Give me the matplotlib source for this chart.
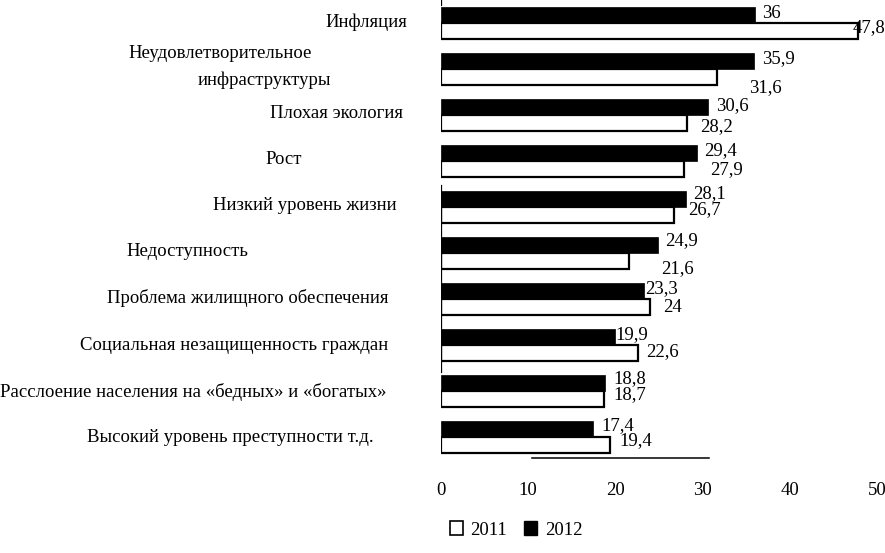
import matplotlib
matplotlib.use("Agg")
import matplotlib.pyplot as plt
from matplotlib.patches import Patch
import numpy as np

plt.rcParams['font.family'] = ['Liberation Serif', 'DejaVu Serif']

# ---- data ----
categories = ["Инфляция",
              "Неудовлетворительное\nинфраструктуры",
              "Плохая экология",
              "Рост",
              "Низкий уровень жизни",
              "Недоступность",
              "Проблема жилищного обеспечения",
              "Социальная незащищенность граждан",
              "Расслоение населения на «бедных» и «богатых»",
              "Высокий уровень преступности т.д."]
values_2011 = [47.8, 31.6, 28.2, 27.9, 26.7, 21.6, 24, 22.6, 18.7, 19.4]
values_2012 = [36, 35.9, 30.6, 29.4, 28.1, 24.9, 23.3, 19.9, 18.8, 17.4]
series_names = ["2011", "2012"]
xticks = [0, 10, 20, 30, 40, 50]

FS = 13.5

# ---- layout (pixels) ----
W, H = 885, 553
fig = plt.figure(figsize=(W / 100, H / 100), dpi=100)
ax_left, ax_right, ax_top, ax_bottom = 441, 877, 0, 458
ax = fig.add_axes([ax_left / W, 1 - ax_bottom / H,
                   (ax_right - ax_left) / W, (ax_bottom - ax_top) / H])

spacing = 46.0
first_center = 23.0
n = len(categories)
ylim_top = -first_center / spacing
ylim_bot = (ax_bottom - first_center) / spacing
bh = 16 / spacing

y = np.arange(n)
ax.barh(y - bh / 2, values_2012, height=bh, color='black', edgecolor='black', linewidth=0.5)
ax.barh(y + bh / 2, values_2011, height=bh, color='white', edgecolor='black', linewidth=1.6)

ax.set_xlim(0, 50)
ax.set_ylim(ylim_bot, ylim_top)
ax.set_xticks(xticks)
ax.set_xticklabels([str(t) for t in xticks], fontsize=FS)
ax.tick_params(axis='x', length=0, pad=17)
ax.set_yticks([])
for s in ax.spines.values():
    s.set_visible(False)

# partial spine fragments as in reference
ax.axvline(0, ymin=1 - 372 / ax_bottom, ymax=1 - 185 / ax_bottom, color='black', lw=0.9)
ax.axvline(0, ymin=1 - 5 / ax_bottom, ymax=1.0, color='black', lw=0.9)
ax.plot([10.4, 30.7], [0, 0], color='black', lw=1.1,
        transform=ax.get_xaxis_transform(), clip_on=False)

# value labels (offsets in pixels: dx from bar end, dy downward)
off_2012 = [(7, -2), (8, -2), (8, -1), (7, -2), (7, -5), (7, -4), (1, -2), (1, -2), (8, -4), (9, -3)]
off_2011 = [(-5, -3), (33, 11), (13, 4), (26, 1), (14, -5), (32, 8), (13, 1), (8, -1), (9, -4), (9, -4)]

def fmt(v):
    return ('%g' % v).replace('.', ',')

for i in range(n):
    dx, dy = off_2012[i]
    ax.annotate(fmt(values_2012[i]), xy=(values_2012[i], y[i] - bh / 2),
                xytext=(dx, -dy), textcoords='offset pixels',
                ha='left', va='center', fontsize=FS, annotation_clip=False)
    dx, dy = off_2011[i]
    ax.annotate(fmt(values_2011[i]), xy=(values_2011[i], y[i] + bh / 2),
                xytext=(dx, -dy), textcoords='offset pixels',
                ha='left', va='center', fontsize=FS, annotation_clip=False)

# category labels: (x_left_px, y_center_px) per line
label_pos = [[(325, 22)],
             [(128, 53), (198, 80)],
             [(270, 113)],
             [(265, 160)],
             [(213, 205)],
             [(126, 252)],
             [(107, 298)],
             [(80, 345)],
             [(0, 392)],
             [(87, 438)]]
for cat, pos in zip(categories, label_pos):
    lines = cat.split("\n")
    for line, (px, py) in zip(lines, pos):
        fig.text(px / W, 1 - py / H, line, ha='left', va='center', fontsize=FS)

handles = [Patch(facecolor='white', edgecolor='black', linewidth=1.2),
           Patch(facecolor='black', edgecolor='black')]
fig.legend(handles, series_names, loc='center', bbox_to_anchor=(516 / W, 1 - 530 / H),
           ncol=2, frameon=False, fontsize=FS, handlelength=0.7, handleheight=0.7,
           handletextpad=0.4, columnspacing=0.9)

fig.savefig("out.png", dpi=100)
